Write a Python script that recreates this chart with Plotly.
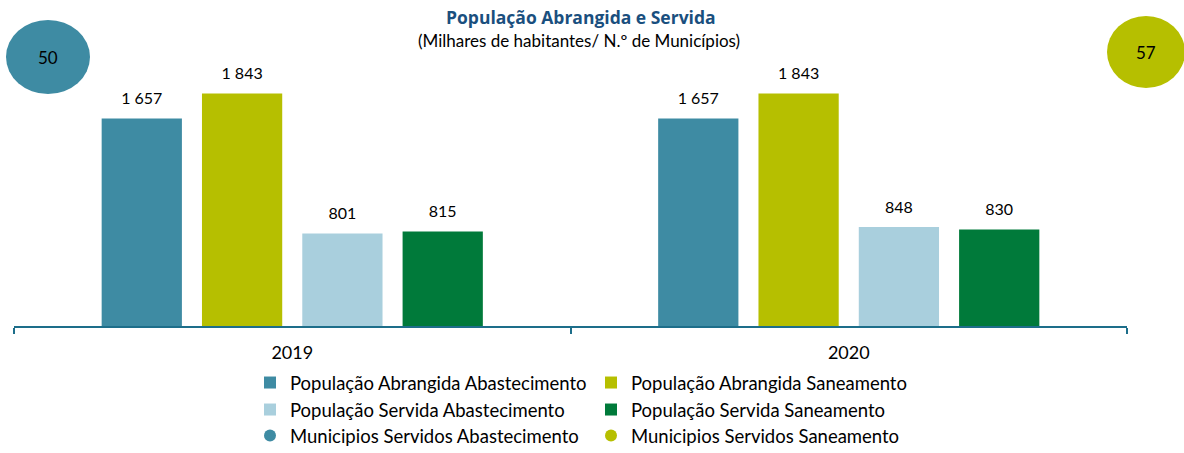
import plotly.graph_objects as go

years = ["2019", "2020"]
series_names = [
    "População Abrangida Abastecimento",
    "População Abrangida Saneamento",
    "População Servida Abastecimento",
    "População Servida Saneamento",
]
abrangida_abast = [1657, 1657]
abrangida_san = [1843, 1843]
servida_abast = [801, 848]
servida_san = [815, 830]
municipios_names = ["Municipios Servidos Abastecimento", "Municipios Servidos Saneamento"]
municipios_values = [50, 57]
title_text = "População Abrangida e Servida"
subtitle_text = "(Milhares de habitantes/ N.º de Municípios)"

colors = ["#3E8BA3", "#B6BF00", "#A9CFDD", "#007A3A"]
muni_colors = ["#3E8BA3", "#B6BF00"]
FONT = "Lato"

W, H = 1184, 453
L, R, T, B = 14, 57, 70, 127
PW, PH = W - L - R, H - T - B
GAP = 0.279


def fmt(v):
    return f"{v:,}".replace(",", " ")


def px_x(x):
    return (x - L) / PW


def px_y(y):
    return (H - B - y) / PH


series_values = [abrangida_abast, abrangida_san, servida_abast, servida_san]
legend_rows = ["legend", "legend", "legend2", "legend2"]
fig = go.Figure()
for name, vals, col, lg in zip(series_names, series_values, colors, legend_rows):
    fig.add_trace(go.Bar(
        x=years, y=vals, name=name, marker=dict(color=col, line=dict(width=0)),
        legend=lg, hoverinfo="skip",
    ))

# data labels: text scatter traces grouped like the bars (invisible markers set the gap)
for name, vals in zip(series_names, series_values):
    fig.add_trace(go.Scatter(
        x=years, y=vals, mode="markers+text", text=[fmt(v) for v in vals],
        textposition="top center", marker=dict(size=15, opacity=0),
        textfont=dict(size=16, color="#000000", family=FONT),
        showlegend=False, cliponaxis=False, hoverinfo="skip",
    ))

for name, col in zip(municipios_names, muni_colors):
    fig.add_trace(go.Scatter(
        x=[None], y=[None], mode="markers", name=name,
        marker=dict(color=col, size=12, symbol="circle"), legend="legend3",
        xaxis="x2", yaxis="y2",
    ))

# Ellipses carrying the municipality counts
ellipses = [
    dict(cx=48, cy=57, rx=42, ry=37),
    dict(cx=1146, cy=52, rx=39, ry=36),
]
for e, val, col in zip(ellipses, municipios_values, muni_colors):
    fig.add_shape(type="circle", xref="paper", yref="paper",
                  x0=px_x(e["cx"] - e["rx"]), x1=px_x(e["cx"] + e["rx"]),
                  y0=px_y(e["cy"] + e["ry"]), y1=px_y(e["cy"] - e["ry"]),
                  fillcolor=col, line=dict(width=0), layer="above")
    fig.add_annotation(xref="paper", yref="paper",
                       x=px_x(e["cx"]), y=px_y(e["cy"]),
                       xanchor="center", yanchor="middle",
                       text=str(val), showarrow=False,
                       font=dict(size=17, color="#000000", family=FONT))

fig.add_annotation(xref="paper", yref="paper", x=px_x(581), y=px_y(17),
                   xanchor="center", yanchor="middle",
                   text=f"<b>{title_text}</b>", showarrow=False,
                   font=dict(size=17.5, color="#1A4F7E", family="Open Sans"))
fig.add_annotation(xref="paper", yref="paper", x=px_x(579), y=px_y(40),
                   xanchor="center", yanchor="middle",
                   text=subtitle_text, showarrow=False,
                   font=dict(size=17, color="#000000", family=FONT))

legend_common = dict(
    orientation="h", xanchor="left", yanchor="top",
    font=dict(size=18.5, color="#000000", family=FONT),
    entrywidth=296, traceorder="normal", bgcolor="rgba(0,0,0,0)",
)

fig.update_layout(
    width=W, height=H,
    margin=dict(l=L, r=R, t=T, b=B, autoexpand=False),
    paper_bgcolor="white", plot_bgcolor="white",
    barmode="group", bargap=GAP, bargroupgap=0.2,
    scattermode="group", scattergap=GAP,
    font=dict(family=FONT, color="#000000"),
    xaxis=dict(
        showline=True, linecolor="#1D6E8A", linewidth=2,
        ticks="outside", tickson="boundaries", ticklen=6, tickcolor="#1D6E8A", tickwidth=2,
        tickfont=dict(size=18, color="#000000", family=FONT),
        ticklabelstandoff=9, showgrid=False,
    ),
    yaxis=dict(visible=False, range=[112, 2017], showgrid=False),
    xaxis2=dict(visible=False, overlaying="x"),
    yaxis2=dict(visible=False, overlaying="y"),
    legend=dict(x=px_x(250), y=px_y(364), **legend_common),
    legend2=dict(x=px_x(250), y=px_y(391), **legend_common),
    legend3=dict(x=px_x(250), y=px_y(417), **legend_common),
    showlegend=True,
)

fig.write_html("out.html", config={"displayModeBar": False},
               post_script="document.body.style.margin='0';")
